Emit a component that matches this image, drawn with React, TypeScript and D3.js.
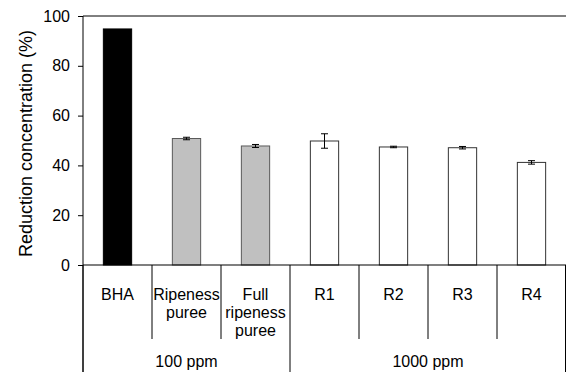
import { useEffect, useRef } from "react";
import * as d3 from "d3";

// categories split into the lines they are printed on
const categories = ["BHA", "Ripeness puree", "Full ripeness puree", "R1", "R2", "R3", "R4"];
const categoryLines = [["BHA"], ["Ripeness", "puree"], ["Full", "ripeness", "puree"], ["R1"], ["R2"], ["R3"], ["R4"]];
const sampleType = ["standard", "puree", "puree", "extract", "extract", "extract", "extract"];
const values = [94.8, 50.8, 47.8, 49.8, 47.4, 47.1, 41.2];
const errors = [0, 0.5, 0.6, 2.9, 0.3, 0.5, 0.7];
const groupLabels = ["100 ppm", "1000 ppm"];
const groupSizes = [3, 4];
const yTicks = [0, 20, 40, 60, 80, 100];

const fillByType: Record<string, string> = { standard: "#000000", puree: "#c0c0c0", extract: "#ffffff" };
const strokeByType: Record<string, string> = { standard: "#000000", puree: "#5a5a5a", extract: "#333333" };

export default function App() {
  const ref = useRef<HTMLDivElement>(null);

  useEffect(() => {
    const container = d3.select(ref.current);
    container.selectAll("*").remove();

    const width = 566;
    const height = 372;
    const left = 83;
    const right = 566;
    const top = 16;
    const base = 265;
    const font = "Liberation Sans, Arial, sans-serif";

    const svg = container
      .append("svg")
      .attr("width", width)
      .attr("height", height)
      .style("position", "absolute")
      .style("left", 0)
      .style("top", 0)
      .style("font-family", font);

    const x = d3.scaleBand<string>().domain(categories).range([left, right]).padding(0);
    const y = d3.scaleLinear().domain([0, 100]).range([base, top]);
    const barW = x.bandwidth() * 0.41;

    // top frame line
    svg.append("line").attr("x1", left).attr("x2", right).attr("y1", y(100)).attr("y2", y(100))
      .attr("stroke", "#000").attr("stroke-width", 1);

    // bars
    categories.forEach((c, i) => {
      const cx = x(c)! + x.bandwidth() / 2;
      const t = sampleType[i];
      svg.append("rect")
        .attr("x", cx - barW / 2)
        .attr("y", y(values[i]))
        .attr("width", barW)
        .attr("height", y(0) - y(values[i]))
        .attr("fill", fillByType[t])
        .attr("stroke", strokeByType[t])
        .attr("stroke-width", 1);
      if (errors[i] > 0) {
        const y1 = y(values[i] + errors[i]);
        const y2 = y(values[i] - errors[i]);
        const g = svg.append("g").attr("stroke", "#000").attr("stroke-width", 1);
        g.append("line").attr("x1", cx).attr("x2", cx).attr("y1", y1).attr("y2", y2);
        g.append("line").attr("x1", cx - 3.5).attr("x2", cx + 3.5).attr("y1", y1).attr("y2", y1);
        g.append("line").attr("x1", cx - 3.5).attr("x2", cx + 3.5).attr("y1", y2).attr("y2", y2);
      }
    });

    // y axis
    const yAxis = svg.append("g")
      .attr("transform", `translate(${left},0)`)
      .call(d3.axisLeft(y).tickValues(yTicks).tickSize(5).tickPadding(8));
    yAxis.select(".domain").remove();
    yAxis.selectAll("text").style("font-size", "16px").style("font-family", font).attr("fill", "#000");
    svg.append("line").attr("x1", left).attr("x2", left).attr("y1", top).attr("y2", height)
      .attr("stroke", "#000");

    // baseline
    svg.append("line").attr("x1", left).attr("x2", right).attr("y1", base).attr("y2", base)
      .attr("stroke", "#000").attr("stroke-width", 1.2);

    // category separators and labels
    let start = 0;
    const groupEdges: number[] = [0];
    groupSizes.forEach((n) => { start += n; groupEdges.push(start); });
    categories.forEach((c, i) => {
      if (i > 0 && !groupEdges.includes(i)) {
        svg.append("line").attr("x1", x(c)!).attr("x2", x(c)!).attr("y1", base).attr("y2", 339)
          .attr("stroke", "#000");
      }
      const cx = x(c)! + x.bandwidth() / 2;
      categoryLines[i].forEach((ln, k) => {
        svg.append("text").attr("x", cx).attr("y", 300 + k * 18)
          .attr("text-anchor", "middle").style("font-size", "16px").text(ln);
      });
    });

    // group separators and labels
    groupEdges.forEach((e) => {
      const gx = e < categories.length ? x(categories[e])! : right - 0.5;
      svg.append("line").attr("x1", gx).attr("x2", gx).attr("y1", base).attr("y2", height)
        .attr("stroke", "#000");
    });
    groupLabels.forEach((g, j) => {
      const a = x(categories[groupEdges[j]])!;
      const b = groupEdges[j + 1] < categories.length ? x(categories[groupEdges[j + 1]])! : right;
      svg.append("text").attr("x", (a + b) / 2).attr("y", 366.5)
        .attr("text-anchor", "middle").style("font-size", "16px").text(g);
    });

    // y title
    svg.append("text")
      .attr("transform", `translate(32,${(top + base) / 2 + 3}) rotate(-90)`)
      .attr("text-anchor", "middle")
      .style("font-size", "18px")
      .text("Reduction concentration (%)");
  }, []);

  return <div ref={ref} />;
}
